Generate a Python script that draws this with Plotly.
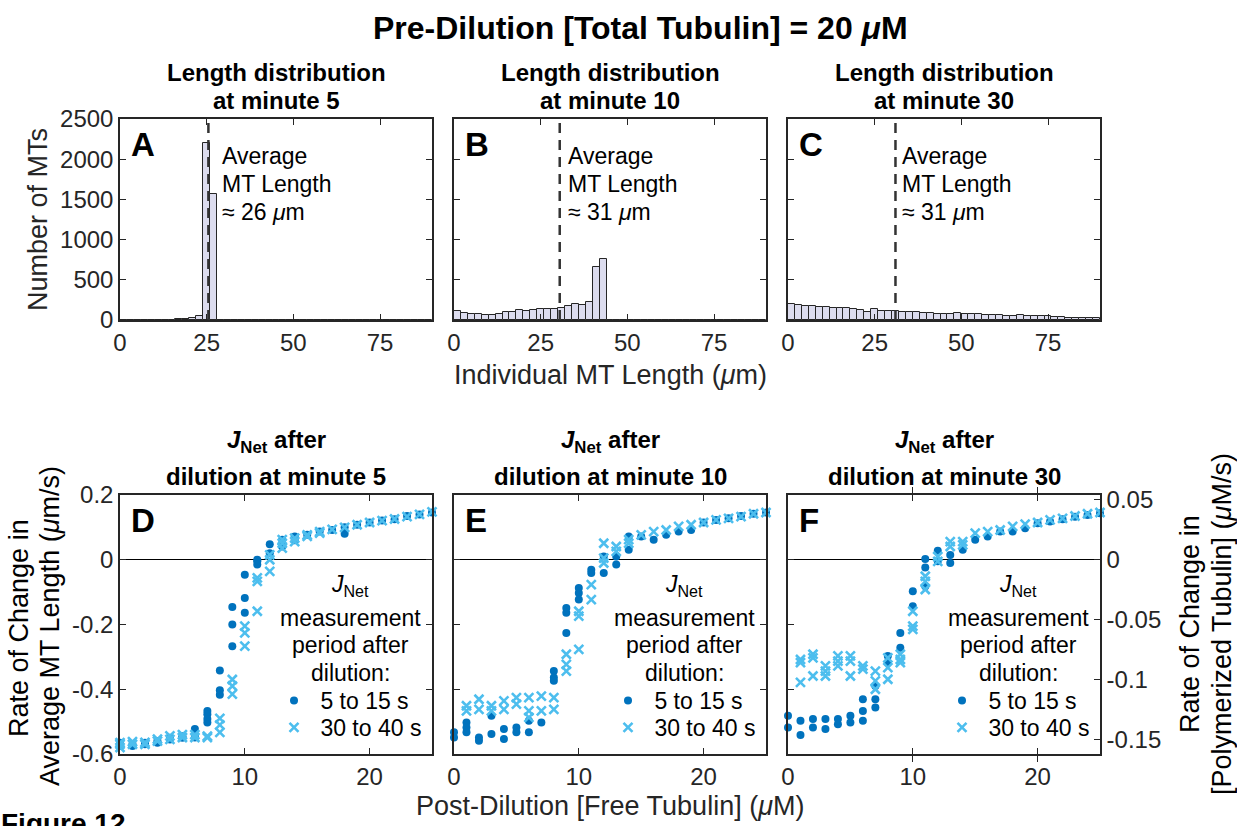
import plotly.graph_objects as go

W, H = 1237, 826
FONT = "Liberation Sans"
DOT_COLOR = "#0072BD"
X_COLOR = "#4DBEEE"
AX_COLOR = "#262626"

# ---------------- data ----------------
# Histogram counts in 2 um bins from 0 to 90 um
bin_width = 2
hist_counts_A = [0, 0, 0, 0, 0, 0, 0, 3, 8, 14, 25, 45, 2200, 1570, 0,
                 0, 0, 0, 0, 0, 0, 0, 0, 0, 0, 0, 0, 0, 0, 0,
                 0, 0, 0, 0, 0, 0, 0, 0, 0, 0, 0, 0, 0, 0, 0]
hist_counts_B = [110, 82, 74, 70, 66, 66, 74, 103, 103, 119, 115, 119, 140, 140, 140,
                 148, 176, 205, 189, 230, 660, 760, 0, 0, 0, 0, 0, 0, 0, 0,
                 0, 0, 0, 0, 0, 0, 0, 0, 0, 0, 0, 0, 0, 0, 0]
hist_counts_C = [195, 190, 180, 172, 165, 160, 155, 150, 145, 140, 130, 105, 135, 118, 112,
                 110, 100, 105, 95, 88, 85, 80, 78, 72, 85, 75, 80, 70, 62, 60,
                 58, 55, 52, 60, 55, 45, 48, 52, 38, 32, 28, 30, 25, 22, 20]
mean_lengths = [25.5, 30.5, 31]
mean_labels = ["26", "31", "31"]
minutes = [5, 10, 30]

free_tubulin = list(range(26))  # post-dilution [free tubulin] (uM)

# J_Net (um/s) per free-tubulin value, several repeats each
D_dots = [[-0.565, -0.575, -0.57], [-0.57, -0.575], [-0.57, -0.565], [-0.565, -0.56],
          [-0.555, -0.55], [-0.55, -0.545], [-0.523, -0.544, -0.549],
          [-0.467, -0.477, -0.492, -0.503], [-0.342, -0.403, -0.417],
          [-0.146, -0.2, -0.267], [-0.046, -0.118, -0.164], [0.0, -0.005, -0.015],
          [0.048, 0.02], [0.062, 0.041], [0.072, 0.06], [0.077], [0.087], [0.092],
          [0.08, 0.1], [0.108], [0.115], [0.121], [0.125], [0.135], [0.14], [0.146]]
D_crosses = [[-0.565, -0.58, -0.57], [-0.562, -0.57], [-0.564, -0.57], [-0.554, -0.56],
             [-0.544, -0.555], [-0.549, -0.54], [-0.549, -0.54], [-0.549, -0.545],
             [-0.49, -0.51, -0.533], [-0.37, -0.39, -0.415], [-0.205, -0.226, -0.267],
             [-0.056, -0.067, -0.159], [0.015, -0.036, 0.0], [0.062, 0.051, 0.036],
             [0.067, 0.056], [0.077, 0.072], [0.087, 0.082], [0.094], [0.1], [0.108],
             [0.115], [0.121], [0.126], [0.133], [0.14], [0.148]]
E_dots = [[-0.533, -0.549], [-0.503, -0.518, -0.533], [-0.549, -0.559], [-0.482, -0.538],
          [-0.523, -0.554], [-0.518, -0.533], [-0.497, -0.533], [-0.503],
          [-0.344, -0.364, -0.374], [-0.149, -0.164, -0.226], [-0.087, -0.103, -0.123],
          [-0.031, -0.041], [0.01, -0.041], [0.01, -0.015], [0.072, 0.031], [0.072],
          [0.062], [0.077], [0.087], [0.092], [0.115], [0.123], [0.128], [0.135],
          [0.142], [0.146]]
E_crosses = [[], [-0.451, -0.467], [-0.431, -0.462], [-0.451, -0.467],
             [-0.436, -0.462], [-0.426, -0.446], [-0.426, -0.467, -0.487], [-0.421, -0.467],
             [-0.426, -0.462], [-0.292, -0.323, -0.344], [-0.159, -0.174, -0.277],
             [-0.077, -0.123], [0.051, 0.005, -0.01], [0.041, 0.026], [0.062, 0.051],
             [0.077], [0.087], [0.092], [0.103], [0.108], [0.115], [0.123], [0.128],
             [0.133], [0.142], [0.146]]
F_dots = [[-0.482, -0.518], [-0.497, -0.541], [-0.492, -0.518], [-0.492, -0.523],
          [-0.492, -0.508], [-0.482, -0.503], [-0.431, -0.467, -0.497],
          [-0.39, -0.431, -0.456], [-0.297, -0.318], [-0.226, -0.272], [-0.097, -0.144],
          [0.002, -0.024, -0.082], [0.028, -0.005], [0.015, -0.01], [0.031], [0.062],
          [0.072], [0.087], [0.087], [0.097], [0.113], [0.118], [0.125], [0.133],
          [0.138], [0.144]]
F_crosses = [[], [-0.308, -0.318, -0.379], [-0.292, -0.303, -0.359], [-0.328, -0.344, -0.359],
             [-0.297, -0.313, -0.328], [-0.297, -0.313, -0.359], [-0.328, -0.338],
             [-0.344, -0.374, -0.4], [-0.303, -0.333, -0.369], [-0.292, -0.308, -0.318],
             [-0.159, -0.205, -0.215], [-0.051, -0.067, -0.092], [0.01, -0.005],
             [0.056, 0.041], [0.056, 0.046], [0.082], [0.087], [0.092], [0.103], [0.11],
             [0.115], [0.123], [0.128], [0.135], [0.142], [0.146]]

series_labels = ["5 to 15 s", "30 to 40 s"]
right_axis_scale = 0.27  # uM/s per um/s

hist_x_ticks = [0, 25, 50, 75]
hist_y_ticks = [0, 500, 1000, 1500, 2000, 2500]
jnet_x_ticks = [0, 10, 20]
jnet_y_ticks = [-0.6, -0.4, -0.2, 0, 0.2]
jnet_y_ticktext = ["-0.6", "-0.4", "-0.2", "0", "0.2"]
right_y_ticks = [-0.15, -0.1, -0.05, 0, 0.05]
right_y_ticktext = ["-0.15", "-0.1", "-0.05", "0", "0.05"]

# ---------------- geometry helpers ----------------
def fx(p):
    return p / W

def fy(p):
    return 1 - p / H

def sfx(n):
    return "" if n == 1 else str(n)

cols = [(120, 432), (454, 766), (788, 1100)]
top_rows = (119, 320)
bot_rows = (495, 754)

fig = go.Figure()

def flat(groups):
    xs, ys = [], []
    for xv, g in zip(free_tubulin, groups):
        for v in g:
            xs.append(xv)
            ys.append(v)
    return xs, ys

# ---------------- histograms ----------------
hists = [hist_counts_A, hist_counts_B, hist_counts_C]
for i, counts in enumerate(hists):
    centers = [bin_width * k + bin_width / 2 for k in range(len(counts))]
    fig.add_trace(go.Bar(x=centers, y=counts, width=bin_width,
                         marker=dict(color="#DCDCEE", line=dict(color="#262626", width=1)),
                         xaxis="x" + sfx(i + 1), yaxis="y" + sfx(i + 1), showlegend=False))

# ---------------- J_Net scatter ----------------
NB = "\u00a0"
scat = [(D_dots, D_crosses), (E_dots, E_crosses), (F_dots, F_crosses)]
for i, (dots, crosses) in enumerate(scat):
    xd, yd = flat(dots)
    xc, yc = flat(crosses)
    fig.add_trace(go.Scatter(x=xd, y=yd, mode="markers", name=NB + series_labels[0],
                             marker=dict(symbol="circle", size=8, color=DOT_COLOR),
                             cliponaxis=False, legend="legend" + sfx(2 * i + 1),
                             xaxis="x" + sfx(i + 4), yaxis="y" + sfx(i + 4)))
    fig.add_trace(go.Scatter(x=xc, y=yc, mode="markers", name=NB + series_labels[1],
                             marker=dict(symbol="x-thin", size=9,
                                         line=dict(width=2.6, color=X_COLOR), color=X_COLOR),
                             cliponaxis=False, legend="legend" + sfx(2 * i + 2),
                             xaxis="x" + sfx(i + 4), yaxis="y" + sfx(i + 4)))

# trace binding the right-hand axis of panel F (no visible marks)
fig.add_trace(go.Scatter(x=[None], y=[None], mode="markers", xaxis="x6", yaxis="y7",
                         showlegend=False, hoverinfo="skip"))

# ---------------- axes ----------------
tickfont = dict(family=FONT, size=24, color=AX_COLOR)
common = dict(showline=True, linecolor=AX_COLOR, linewidth=1.5, ticks="inside",
              ticklen=6, tickwidth=1.3, tickcolor=AX_COLOR, showgrid=False,
              zeroline=False, tickfont=tickfont, automargin=False)

layout = dict()
for i in range(3):
    x0, x1 = cols[i]
    a, b = sfx(i + 1), sfx(i + 4)
    layout["xaxis" + a] = dict(common, domain=[fx(x0), fx(x1)], anchor="y" + a,
                               range=[0, 90], tickvals=hist_x_ticks, mirror="allticks")
    layout["yaxis" + a] = dict(common, domain=[fy(top_rows[1]), fy(top_rows[0])],
                               anchor="x" + a, range=[0, 2500], tickvals=hist_y_ticks,
                               mirror="allticks", showticklabels=(i == 0))
    layout["xaxis" + b] = dict(common, domain=[fx(x0), fx(x1)], anchor="y" + b,
                               range=[0, 25], tickvals=jnet_x_ticks, mirror="allticks")
    layout["yaxis" + b] = dict(common, domain=[fy(bot_rows[1]), fy(bot_rows[0])],
                               anchor="x" + b, range=[-0.6, 0.2], tickvals=jnet_y_ticks,
                               ticktext=jnet_y_ticktext,
                               mirror=("allticks" if i < 2 else False),
                               showticklabels=(i == 0),
                               zeroline=True, zerolinecolor="#000000", zerolinewidth=1)

layout["yaxis7"] = dict(common, overlaying="y6", side="right", anchor="x6",
                        range=[-0.6 * right_axis_scale, 0.2 * right_axis_scale],
                        tickvals=right_y_ticks, ticktext=right_y_ticktext)

# mean length lines
shapes = []
for i, m in enumerate(mean_lengths):
    shapes.append(dict(type="line", xref="x" + sfx(i + 1), yref="y" + sfx(i + 1) + " domain",
                       x0=m, x1=m, y0=0, y1=1,
                       line=dict(color="#333333", width=2.5, dash="10px,7px")))

annotations = []

def ann(text, x, y, size, bold=False, xanchor="center", yanchor="middle",
        angle=0, color="#000000", xref="paper", yref="paper", xshift=0):
    if bold:
        text = f"<b>{text}</b>"
    annotations.append(dict(text=text, x=x, y=y, xref=xref, yref=yref,
                            showarrow=False, xanchor=xanchor, yanchor=yanchor,
                            textangle=angle, xshift=xshift,
                            font=dict(family=FONT, size=size, color=color)))

# main title
ann("Pre-Dilution [Total Tubulin] = 20 <i>μ</i>M", fx(641), fy(28), 32, bold=True)

letters_top = ["A", "B", "C"]
letters_bot = ["D", "E", "F"]
shifts = [12, 6, 5]
for i in range(3):
    x0, x1 = cols[i]
    cx = (x0 + x1) / 2
    ann("Length distribution", fx(cx), fy(72), 24, bold=True)
    ann(f"at minute {minutes[i]}", fx(cx), fy(100), 24, bold=True)
    ann(letters_top[i], fx(x0 + 9), fy(144), 33, bold=True, xanchor="left")
    ann("<i>J</i><sub>Net</sub> after", fx(cx), fy(441), 24, bold=True)
    ann(f"dilution at minute {minutes[i]}", fx(cx), fy(476), 24, bold=True)
    ann(letters_bot[i], fx(x0 + 9), fy(520), 33, bold=True, xanchor="left")
    m = mean_lengths[i]
    for j, line in enumerate(["Average", "MT Length", f"≈ {mean_labels[i]} <i>μ</i>m"]):
        ann(line, m, fy(156 + 28 * j), 23, xanchor="left", xref="x" + sfx(i + 1),
            xshift=shifts[i])
    lx = x0 + 230
    ann("<i>J</i><sub>Net</sub>", fx(lx), fy(585), 23)
    ann("measurement", fx(lx), fy(618), 23)
    ann("period after", fx(lx), fy(645), 23)
    ann("dilution:", fx(lx), fy(673), 23)

# axis titles
ann("Number of MTs", fx(38), fy(220), 27, angle=-90, color=AX_COLOR)
ann("Individual MT Length (<i>μ</i>m)", fx(610), fy(375), 27, color=AX_COLOR)
ann("Post-Dilution [Free Tubulin] (<i>μ</i>M)", fx(610), fy(806), 27, color=AX_COLOR)
ann("Rate of Change in", fx(19), fy(628), 27, angle=-90)
ann("Average MT Length (<i>μ</i>m/s)", fx(50), fy(626), 27, angle=-90)
ann("Rate of Change in", fx(1190), fy(624), 27, angle=-90)
ann("[Polymerized Tubulin] (<i>μ</i>M/s)", fx(1222), fy(624), 27, angle=-90)
ann("Figure 12", fx(-1), fy(806), 28, bold=True, xanchor="left", yanchor="top")

legend_base = dict(xanchor="left", yanchor="top", bgcolor="rgba(0,0,0,0)",
                   borderwidth=0, font=dict(family=FONT, size=23, color="#000000"),
                   itemwidth=30, tracegroupgap=0)
for i in range(3):
    lx = fx(cols[i][0] + 154)
    layout["legend" + sfx(2 * i + 1)] = dict(legend_base, x=lx, y=fy(679))
    layout["legend" + sfx(2 * i + 2)] = dict(legend_base, x=lx, y=fy(706))

fig.update_layout(**layout)
fig.update_layout(template="none", width=W, height=H, autosize=False,
                  margin=dict(l=0, r=0, t=0, b=0, pad=0),
                  paper_bgcolor="white", plot_bgcolor="white",
                  shapes=shapes, annotations=annotations, bargap=0,
                  font=dict(family=FONT), hovermode=False)

fig.write_html("out.html", config={"displayModeBar": False},
               post_script="document.body.style.margin='0';")
